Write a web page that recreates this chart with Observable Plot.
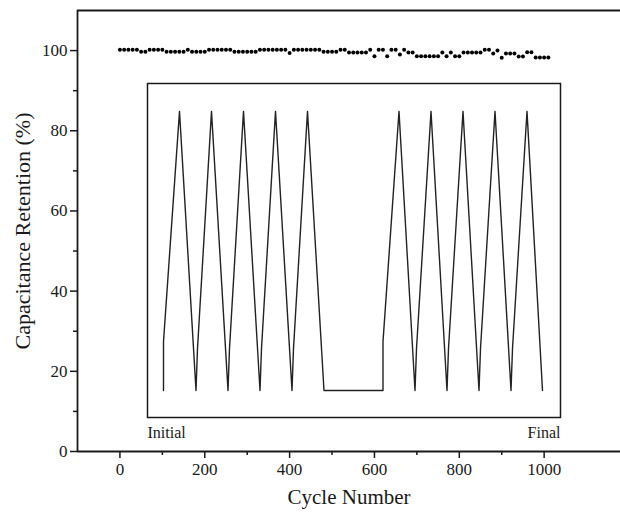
<!DOCTYPE html>
<html><head><meta charset="utf-8">
<script src="https://cdn.jsdelivr.net/npm/d3@7"></script>
<script src="https://cdn.jsdelivr.net/npm/@observablehq/plot@0.6"></script>
<style>
body{margin:0;background:#fff;}
#wrap{position:relative;width:620px;height:520px;}
#inset{position:absolute;left:147px;top:83px;}
#wrap svg{overflow:visible;}
#wrap svg, #wrap svg text{font-family:"Liberation Serif","Times New Roman",serif !important;}
</style></head><body><div id="wrap"><div id="main"></div><div id="inset"></div></div>
<script>
// Main series: capacitance retention vs cycle number
const cycles = [0,10,20,30,40,50,60,70,80,90,100,110,120,130,140,150,160,170,180,190,200,
  210,220,230,240,250,260,270,280,290,300,310,320,330,340,350,360,370,380,390,400,
  410,420,430,440,450,460,470,480,490,500,510,520,530,540,550,560,570,580,590,600,
  610,620,630,640,650,660,670,680,690,700,710,720,730,740,750,760,770,780,790,800,
  810,820,830,840,850,860,870,880,890,900,910,920,930,940,950,960,970,980,990,1000,1010];
const retention = [100.2,100.2,100.2,100.2,100.2,99.7,99.7,100.2,100.2,100.2,100.2,
  99.7,99.7,99.7,99.7,99.7,100.2,99.7,99.7,99.7,99.7,
  100.2,100.2,100.2,100.2,100.2,100.2,99.7,99.7,99.7,99.7,99.7,99.7,
  100.2,100.2,100.2,100.2,100.2,100.2,100.2,99.4,
  100.2,100.2,100.2,100.2,100.2,100.2,100.2,99.7,99.7,99.7,99.7,100.2,
  100.2,99.5,99.5,99.5,99.5,99.5,100.2,98.6,100.2,100.2,98.6,100.2,100.2,99.0,100.2,
  99.5,99.5,98.6,98.6,98.6,98.6,98.6,98.6,99.5,98.6,99.5,98.6,98.6,
  99.5,99.5,99.5,99.5,99.5,100.2,100.2,99.3,100.0,98.2,99.3,99.3,99.3,98.5,98.5,
  99.6,99.6,98.3,98.3,98.3,98.3];

const xMajorTicks = [0,200,400,600,800,1000];
const xMinorTicks = [100,300,500,700,900];
const yMajorTicks = [0,20,40,60,80,100];
const yMinorTicks = [10,30,50,70,90];
const xLabel = "Cycle Number";
const yLabel = "Capacitance Retention (%)";

// Inset: galvanostatic charge/discharge, initial and final cycles
const insetTime = [16,16,32,48.5,50,64,80.5,82,96,112.5,114,128,144.5,146,160,176.5,
  235.5,235.5,251.5,267.5,269,283.5,299.5,301,315.5,331.5,333,347.5,363.5,365,379.5,395];
const insetPotential = [0,0.14,0.8,0,0.12,0.8,0,0.12,0.8,0,0.12,0.8,0,0.12,0.8,0,
  0,0.14,0.8,0,0.12,0.8,0,0.12,0.8,0,0.12,0.8,0,0.12,0.8,0];
const insetLabels = ["Initial","Final"];

const data = cycles.map((c,i)=>({cycle:c, retention:retention[i]}));
const insetData = insetTime.map((t,i)=>({t, v:insetPotential[i]}));

const font = "Liberation Serif";
const ink = "#1a1a1a";
const fmt = d => String(d);

const main = Plot.plot({
  width: 620, height: 520,
  marginTop: 10, marginLeft: 77, marginRight: 0, marginBottom: 69,
  style: {fontFamily: font, background: "transparent", color: ink, overflow: "visible"},
  x: {domain: [-100, 1180]},
  y: {domain: [0, 110]},
  marks: [
    Plot.axisX(xMajorTicks, {tickSize: 7, tickPadding: 4, fontSize: 17, label: null, tickFormat: fmt, strokeWidth: 1.5, stroke: ink, fill: ink}),
    Plot.axisX(xMinorTicks, {tickSize: 4, text: null, label: null, strokeWidth: 1.5, stroke: ink}),
    Plot.axisY(yMajorTicks, {tickSize: 7, tickPadding: 3, fontSize: 17, label: null, tickFormat: fmt, strokeWidth: 1.5, stroke: ink, fill: ink}),
    Plot.axisY(yMinorTicks, {tickSize: 4, text: null, label: null, strokeWidth: 1.5, stroke: ink}),
    Plot.ruleX([-100], {stroke: ink, strokeWidth: 1.8}),
    Plot.ruleY([0, 110], {stroke: ink, strokeWidth: 1.8}),
    Plot.dot(data, {x: "cycle", y: "retention", r: 2, fill: "black", stroke: null}),
    Plot.text([xLabel], {text: d => d, frameAnchor: "bottom", dy: 46, lineAnchor: "middle", textAnchor: "middle", fontSize: 21, fill: ink}),
    Plot.text([yLabel], {text: d => d, frameAnchor: "left", rotate: -90, dx: -55, lineAnchor: "middle", textAnchor: "middle", fontSize: 22, fill: ink})
  ]
});
document.getElementById("main").appendChild(main);

const inset = Plot.plot({
  width: 413, height: 356,
  marginTop: 0, marginLeft: 0, marginRight: 0, marginBottom: 22,
  style: {fontFamily: font, background: "transparent", color: ink, overflow: "visible"},
  x: {domain: [0, 413], axis: null},
  y: {domain: [-0.0774, 0.880], axis: null},
  marks: [
    Plot.frame({stroke: ink, strokeWidth: 1.5}),
    Plot.line(insetData, {x: "t", y: "v", stroke: "#222", strokeWidth: 1.4}),
    Plot.text([insetLabels[0]], {text: d => d, frameAnchor: "bottom-left", dy: 15, lineAnchor: "middle", textAnchor: "start", fontSize: 16, fill: ink}),
    Plot.text([insetLabels[1]], {text: d => d, frameAnchor: "bottom-right", dy: 15, lineAnchor: "middle", textAnchor: "end", fontSize: 16, fill: ink})
  ]
});
document.getElementById("inset").appendChild(inset);
</script></body></html>
